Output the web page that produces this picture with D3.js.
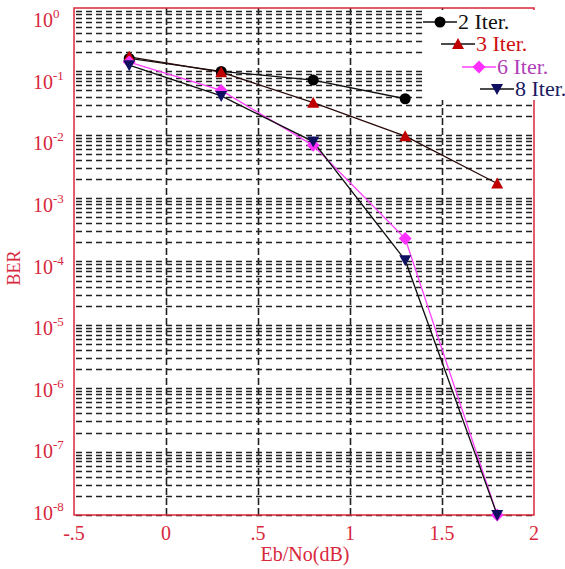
<!DOCTYPE html>
<html>
<head>
<meta charset="utf-8">
<script src="https://cdn.jsdelivr.net/npm/d3@7"></script>
<style>
  html, body { margin: 0; padding: 0; background: #fff; }
  svg { display: block; font-family: "Liberation Serif", "DejaVu Serif", serif; }
</style>
</head>
<body>
<svg id="chart"></svg>
<script>
// data
const ebNo = [-0.2, 0.3, 0.8, 1.3, 1.8];
const ber2 = [0.16, 0.1, 0.073, 0.037];
const ber3 = [0.17, 0.097, 0.032, 0.0095, 0.0017];
const ber6 = [0.14, 0.05, 0.0068, 0.00023, 1e-8];
const ber8 = [0.125, 0.041, 0.0078, 0.000105, 1e-8];
const seriesNames = ['2 Iter.', '3 Iter.', '6 Iter.', '8 Iter.'];
const xTicks = [-0.5, 0, 0.5, 1, 1.5, 2];
const xTickLabels = ['-.5', '0', '.5', '1', '1.5', '2'];
const yExponents = [0, -1, -2, -3, -4, -5, -6, -7, -8];

const width = 565, height = 569;
const red = '#d8283c';

const svg = d3.select('#chart')
    .attr('width', width)
    .attr('height', height);

// scales
const x = d3.scaleLinear().domain([-0.5, 2]).range([74, 534]);
const y = d3.scaleLog().domain([1, 1e-8]).range([8, 515]);
// the decade labels sit on a slightly tighter spacing than the grid
const yLabel = d3.scaleLinear().domain([0, -8]).range([20, 513]);

// horizontal grid: every 1..9 x 10^n
const gridVals = [];
for (let n = -8; n < 0; n++) {
    for (let k = 1; k <= 9; k++) gridVals.push(k * Math.pow(10, n));
}
svg.append('g')
    .selectAll('line')
    .data(gridVals)
    .join('line')
    .attr('x1', x(-0.5) + 2)
    .attr('x2', x(2))
    .attr('y1', d => Math.round(y(d)) + 0.5)
    .attr('y2', d => Math.round(y(d)) + 0.5)
    .attr('stroke', '#222')
    .attr('stroke-width', 1.6)
    .attr('stroke-dasharray', '6,4');

// vertical grid
svg.append('g')
    .selectAll('line')
    .data(xTicks.slice(1, -1))
    .join('line')
    .attr('x1', d => Math.round(x(d)) + 0.5)
    .attr('x2', d => Math.round(x(d)) + 0.5)
    .attr('y1', y(1))
    .attr('y2', y(1e-8))
    .attr('stroke', '#222')
    .attr('stroke-width', 1.6)
    .attr('stroke-dasharray', '7,3');

// frame
svg.append('rect')
    .attr('x', x(-0.5))
    .attr('y', y(1))
    .attr('width', x(2) - x(-0.5))
    .attr('height', y(1e-8) - y(1))
    .attr('fill', 'none')
    .attr('stroke', red)
    .attr('stroke-width', 1.5);

// x tick labels
svg.append('g')
    .selectAll('text')
    .data(xTicks)
    .join('text')
    .attr('x', d => x(d))
    .attr('y', 540)
    .attr('text-anchor', 'middle')
    .attr('fill', red)
    .attr('font-size', 20)
    .text((d, i) => xTickLabels[i]);

// y tick labels (10 with superscript)
const yl = svg.append('g')
    .selectAll('text')
    .data(yExponents)
    .join('text')
    .attr('x', 33)
    .attr('y', d => yLabel(d) + 7)
    .attr('fill', red)
    .attr('font-size', 20);
yl.append('tspan').text('10');
yl.append('tspan')
    .attr('dy', -9)
    .attr('font-size', 13)
    .text(d => d);

// axis titles
svg.append('text')
    .attr('x', 305)
    .attr('y', 561)
    .attr('text-anchor', 'middle')
    .attr('fill', red)
    .attr('font-size', 20)
    .text('Eb/No(dB)');
svg.append('text')
    .attr('transform', 'translate(20,268) rotate(-90)')
    .attr('text-anchor', 'middle')
    .attr('fill', red)
    .attr('font-size', 18)
    .text('BER');

// series styles
const series = [
    { name: seriesNames[0], vals: ber2, line: '#111', mark: '#000', shape: 'circle', text: '#111' },
    { name: seriesNames[1], vals: ber3, line: '#2a0a0a', mark: '#c00000', shape: 'up', text: '#cc1010' },
    { name: seriesNames[2], vals: ber6, line: '#ff40ff', mark: '#ff30ff', shape: 'diamond', text: '#b040b8' },
    { name: seriesNames[3], vals: ber8, line: '#111', mark: '#101060', shape: 'down', text: '#1a1a60' }
];

const symbolPath = (shape) => {
    if (shape === 'circle') return d3.symbol(d3.symbolCircle, 95)();
    if (shape === 'diamond') return 'M0,-6.5L6.5,0L0,6.5L-6.5,0Z';
    if (shape === 'up') return 'M0,-6L6,5L-6,5Z';
    return 'M-6,-5L6,-5L0,6Z';
};

const line = d3.line()
    .x(d => x(d[0]))
    .y(d => y(d[1]));

series.forEach(s => {
    const pts = s.vals.map((v, i) => [ebNo[i], v]);
    svg.append('path')
        .datum(pts)
        .attr('fill', 'none')
        .attr('stroke', s.line)
        .attr('stroke-width', 1.3)
        .attr('d', line);
});
series.forEach(s => {
    const pts = s.vals.map((v, i) => [ebNo[i], v]);
    svg.append('g')
        .selectAll('path')
        .data(pts)
        .join('path')
        .attr('transform', d => `translate(${x(d[0])},${y(d[1])})`)
        .attr('d', symbolPath(s.shape))
        .attr('fill', s.mark);
});

// legend (white box covering the grid in the top right corner)
svg.append('rect')
    .attr('x', 422)
    .attr('y', 10)
    .attr('width', 143)
    .attr('height', 90)
    .attr('fill', '#fff');

const legendPos = [
    { x: 423, y: 22 },
    { x: 441, y: 44 },
    { x: 462, y: 67 },
    { x: 480, y: 89 }
];
series.forEach((s, i) => {
    const p = legendPos[i];
    const g = svg.append('g').attr('transform', `translate(${p.x},${p.y})`);
    g.append('line')
        .attr('x1', 0).attr('x2', 34)
        .attr('stroke', i === 2 ? s.line : '#111')
        .attr('stroke-width', 1.3);
    g.append('path')
        .attr('transform', 'translate(17,0)')
        .attr('d', symbolPath(s.shape))
        .attr('fill', s.mark);
    g.append('text')
        .attr('x', 35)
        .attr('y', 7)
        .attr('fill', s.text)
        .attr('font-size', 22)
        .text(s.name);
});
</script>
</body>
</html>
